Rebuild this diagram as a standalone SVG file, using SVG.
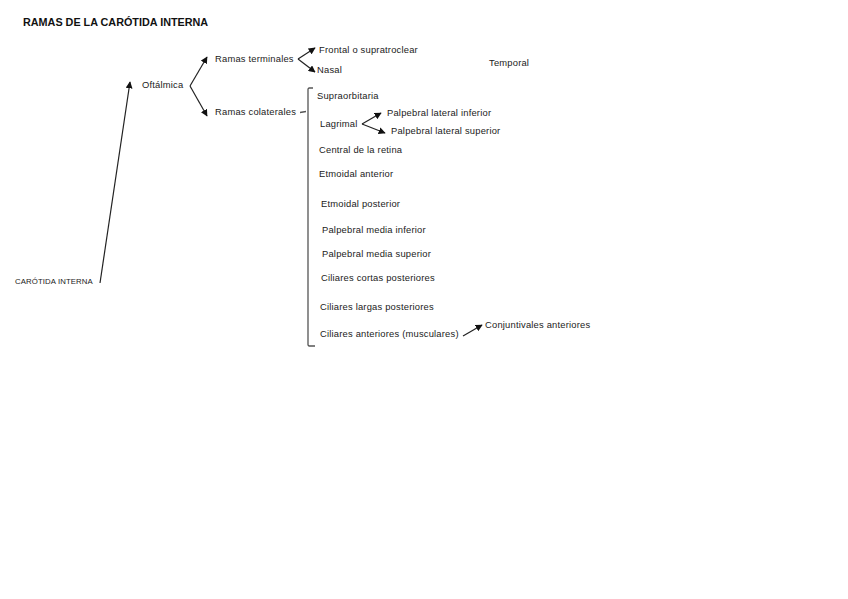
<svg xmlns="http://www.w3.org/2000/svg" width="848" height="599" viewBox="0 0 848 599">
<style>
.t{font-family:"Liberation Sans",Arial,sans-serif;font-size:9.4px;letter-spacing:0.2px;fill:#222}
.h{font-family:"Liberation Sans",Arial,sans-serif;font-size:10.8px;font-weight:bold;fill:#111}
.s{font-family:"Liberation Sans",Arial,sans-serif;font-size:7.8px;letter-spacing:0.1px;fill:#222}
.c{fill:none;stroke:#222;stroke-width:1.2}
.b{fill:none;stroke:#555;stroke-width:1.3}
</style>
<defs>
<marker id="a" viewBox="0 0 10 10" refX="9" refY="5" markerWidth="7" markerHeight="7" markerUnits="userSpaceOnUse" orient="auto">
<path d="M0,0 L10,5 L0,10 z" fill="#111"/>
</marker>
</defs>
<rect width="848" height="599" fill="#fff"/>
<text class="h" x="23" y="26">RAMAS DE LA CARÓTIDA INTERNA</text>
<g id="connectors">
<path class="c" d="M100,283 L130,82" marker-end="url(#a)"/>
<path class="c" d="M190,86 L207,57" marker-end="url(#a)"/>
<path class="c" d="M190,86 L207,116" marker-end="url(#a)"/>
<path class="c" d="M298,59 L315,48" marker-end="url(#a)"/>
<path class="c" d="M298,59 L315,72" marker-end="url(#a)"/>
<path class="c" d="M362,124 L381,113" marker-end="url(#a)"/>
<path class="c" d="M362,124 L385,133" marker-end="url(#a)"/>
<path class="c" d="M463,336 L482,325" marker-end="url(#a)"/>
<path class="b" d="M300,112.5 L306,111.5 M313,88 L309,88 L308,89 L308,345 L309,346 L315,346"/>
</g>
<g id="carotida"><text class="s" x="15" y="284">CARÓTIDA INTERNA</text></g>
<g id="oftalmica"><text class="t" x="142" y="88">Oftálmica</text></g>
<g id="ramas-terminales"><text class="t" x="215" y="62">Ramas terminales</text></g>
<g id="frontal"><text class="t" x="319" y="53">Frontal o supratroclear</text></g>
<g id="nasal"><text class="t" x="317" y="73">Nasal</text></g>
<g id="temporal"><text class="t" x="489" y="66">Temporal</text></g>
<g id="ramas-colaterales"><text class="t" x="215" y="115">Ramas colaterales</text></g>
<g id="supraorbitaria"><text class="t" x="317" y="99">Supraorbitaria</text></g>
<g id="lagrimal"><text class="t" x="320" y="127">Lagrimal</text></g>
<g id="palp-lat-inf"><text class="t" x="387" y="116">Palpebral lateral inferior</text></g>
<g id="palp-lat-sup"><text class="t" x="391" y="134">Palpebral lateral superior</text></g>
<g id="central-retina"><text class="t" x="319" y="153">Central de la retina</text></g>
<g id="etmoidal-ant"><text class="t" x="319" y="177">Etmoidal anterior</text></g>
<g id="etmoidal-post"><text class="t" x="321" y="207">Etmoidal posterior</text></g>
<g id="palp-med-inf"><text class="t" x="322" y="233">Palpebral media inferior</text></g>
<g id="palp-med-sup"><text class="t" x="322" y="257">Palpebral media superior</text></g>
<g id="ciliares-cortas"><text class="t" x="321" y="281">Ciliares cortas posteriores</text></g>
<g id="ciliares-largas"><text class="t" x="320" y="310">Ciliares largas posteriores</text></g>
<g id="ciliares-ant"><text class="t" x="320" y="337">Ciliares anteriores (musculares)</text></g>
<g id="conjuntivales"><text class="t" x="485" y="328">Conjuntivales anteriores</text></g>
</svg>
